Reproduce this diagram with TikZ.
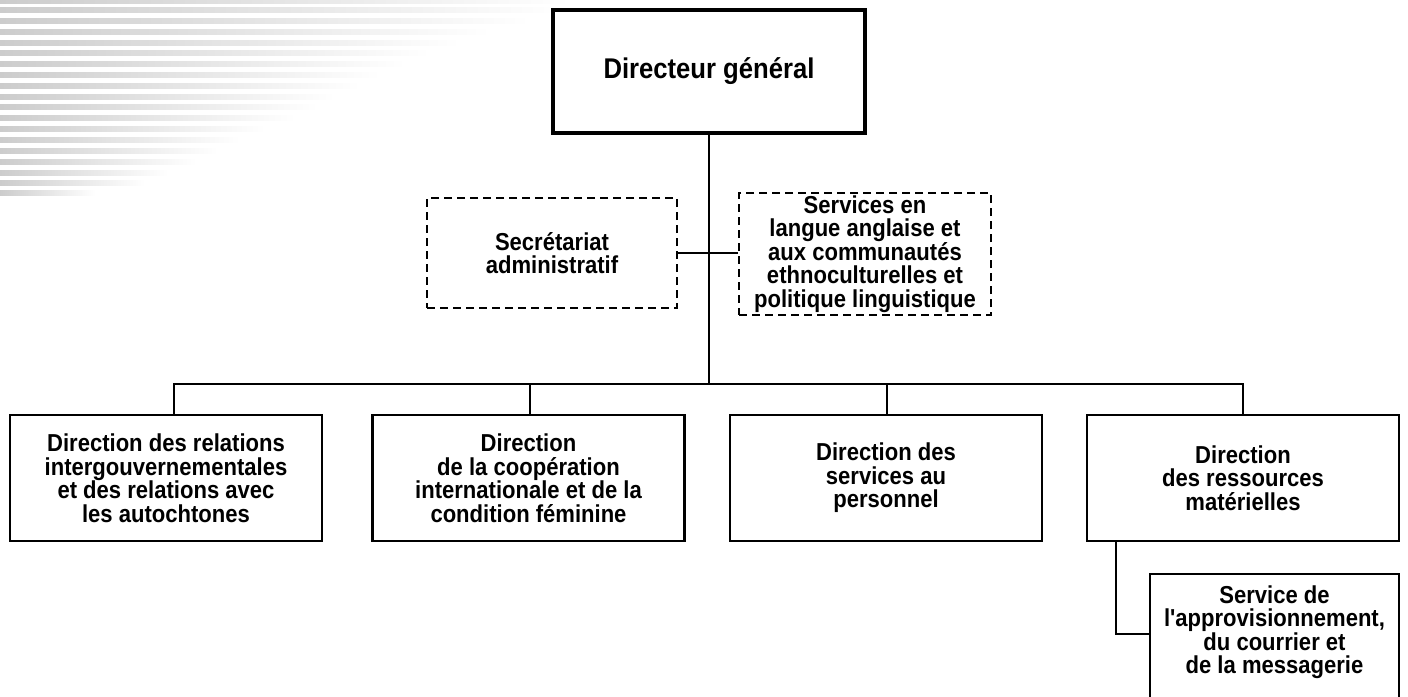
\documentclass[tikz,border=0pt]{standalone}
\usepackage{fontspec}
\setmainfont{Liberation Sans}[FakeStretch=0.9, Ligatures=TeXOff]
\usetikzlibrary{calc}
\begin{document}
\begin{tikzpicture}[x=1pt,y=-1pt,
  boxtext/.style={font=\bfseries\fontsize{24.5}{23.5}\selectfont, align=center, inner sep=0pt},
  box/.style={boxtext, draw, line width=2.3pt, minimum width=312pt, minimum height=126pt},
  dbox/.style={boxtext, draw, line width=1.4pt, dash pattern=on 8pt off 5pt},
  topbox/.style={draw, line width=4pt, minimum width=312pt, minimum height=123pt, inner sep=0pt, font=\bfseries\fontsize{28.5}{30}\selectfont},
  conn/.style={line width=2pt},
  stripe/.style={left color=gray!40, middle color=gray!32, right color=white}]
\useasboundingbox (0,0) rectangle (1408,696);
% decorative stripes
\foreach \y/\l in {1/570,10/560,21/530,32/490,43/460,53/430,64/405,75/380,86/360,97/335,107/318,118/295,129/265,140/240,151/218,162/196,173/168,183/145,193/95}{
  \shade[stripe] (0,\y-2.3) rectangle (\l,\y+2.3);
}
% nodes
\node[topbox] (dg) at (709,71.5) {Directeur général};
\node[dbox, minimum width=250pt, minimum height=110pt] (sec) at (552,253) {Secrétariat\\administratif};
\node[dbox, minimum width=252pt, minimum height=122pt] (svc) at (865,254) {Services en\\langue anglaise et\\aux communautés\\ethnoculturelles et\\politique linguistique};
\node[box] (b1) at (166,478) {Direction des relations\\intergouvernementales\\et des relations avec\\les autochtones};
\node[box] (b2) at (528.5,478) {Direction\\de la coopération\\internationale et de la\\condition féminine};
\node[box] (b3) at (886,478) {Direction des\\services au\\personnel};
\node[box] (b4) at (1243,478) {Direction\\des ressources\\matérielles};
\node[box, minimum width=249pt, minimum height=132pt, anchor=north] (sub) at (1274.5,573) {};
\node[boxtext] (subt) at (1274.5,632) {Service de\\l'approvisionnement,\\du courrier et\\de la messagerie};
% connectors
\coordinate (bus) at (709,384);
\draw[conn] (dg.south) -- (bus);
\draw[conn] (sec.east) -- (sec.east -| svc.west);
\draw[conn] (bus) -| ($(b1.north)+(8,0)$);
\draw[conn] (bus) -| ($(b2.north)+(1.5,0)$);
\draw[conn] (bus) -| ($(b3.north)+(1,0)$);
\draw[conn] (bus) -| (b4.north);
\draw[conn] ($(b4.south west)+(30,0)$) |- ($(sub.north west)+(0,61)$);
\end{tikzpicture}
\end{document}
